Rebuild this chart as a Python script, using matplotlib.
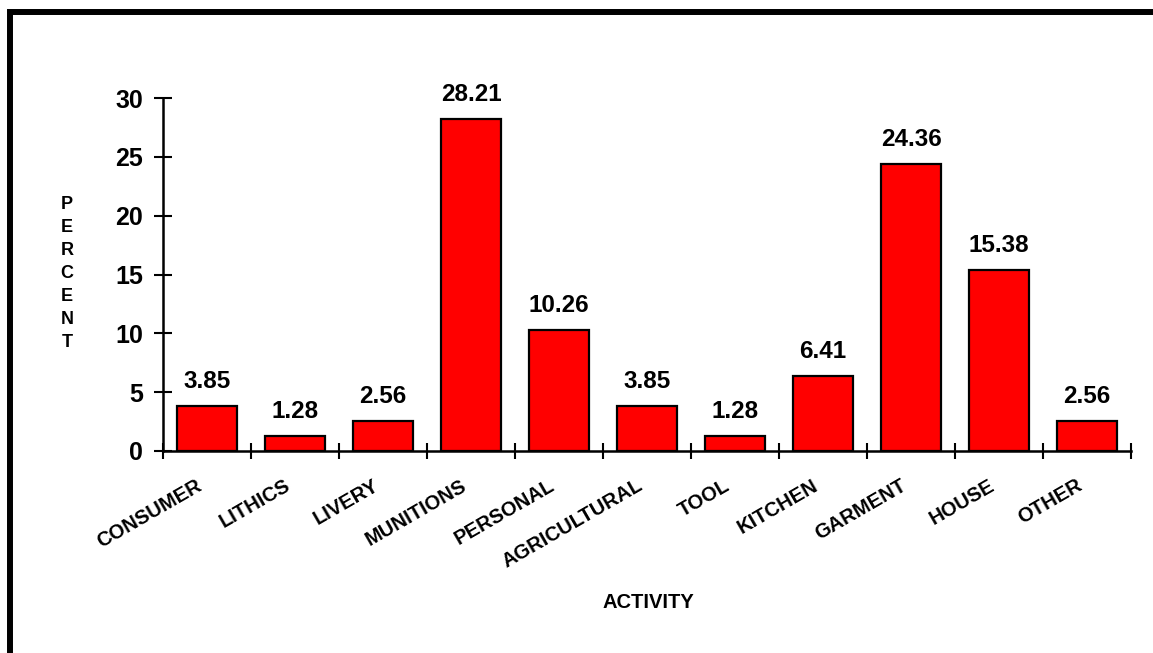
import matplotlib
matplotlib.use("Agg")
import matplotlib.pyplot as plt
from matplotlib.patches import Rectangle

# data
activities = ["CONSUMER", "LITHICS", "LIVERY", "MUNITIONS", "PERSONAL", "AGRICULTURAL",
              "TOOL", "KITCHEN", "GARMENT", "HOUSE", "OTHER"]
percents = [3.85, 1.28, 2.56, 28.21, 10.26, 3.85, 1.28, 6.41, 24.36, 15.38, 2.56]
y_ticks = [0, 5, 10, 15, 20, 25, 30]

plt.rcParams['font.family'] = ['Liberation Sans', 'DejaVu Sans']
plt.rcParams['font.weight'] = 'bold'

W, H = 1153, 653
fig = plt.figure(figsize=(W / 100, H / 100), dpi=100)
ax = fig.add_axes([163 / W, 1 - 451 / H, (1131 - 163) / W, (451 - 98) / H])

x = list(range(len(activities)))
ax.bar(x, percents, width=0.68, color='#ff0000', edgecolor='black', linewidth=1.6, zorder=3)

# value labels above the bars
for xi, v in zip(x, percents):
    ax.annotate(f"{v:.2f}", (xi, v), xytext=(0, 13), textcoords='offset pixels',
                ha='center', va='bottom', fontsize=17.5, fontweight='bold')

# category labels, slanted
for xi, name in zip(x, activities):
    ax.annotate(name, (xi, 0), xytext=(-11, -25), textcoords='offset pixels',
                ha='right', va='top', rotation=30, rotation_mode='anchor',
                fontsize=14.5, fontweight='bold', annotation_clip=False)

ax.set_xlim(-0.5, len(activities) - 0.5)
ax.set_ylim(0, 30)
ax.set_yticks(y_ticks)
ax.tick_params(axis='y', direction='inout', length=13, width=1.5, labelsize=18, pad=8)

# ticks between the categories
ax.set_xticks([i - 0.5 for i in range(len(activities) + 1)])
ax.set_xticklabels([])
ax.tick_params(axis='x', direction='inout', length=11, width=1.5)

for s in ['top', 'right']:
    ax.spines[s].set_visible(False)
for s in ['left', 'bottom']:
    ax.spines[s].set_linewidth(1.8)

fig.text(648 / W, 1 - 608 / H, "ACTIVITY", ha='center', va='baseline',
         fontsize=14.5, fontweight='bold')
fig.text(67 / W, 1 - 273.5 / H, "\n".join("PERCENT"), ha='center', va='center',
         fontsize=13, fontweight='bold', linespacing=1.46)

# thick frame, only top and left edges show
fig.add_artist(Rectangle((10.5 / W, -0.5), 2, 0.5 + (1 - 12 / H), transform=fig.transFigure,
                         fill=False, edgecolor='black', linewidth=4.3))

fig.savefig("out.png", dpi=100)
